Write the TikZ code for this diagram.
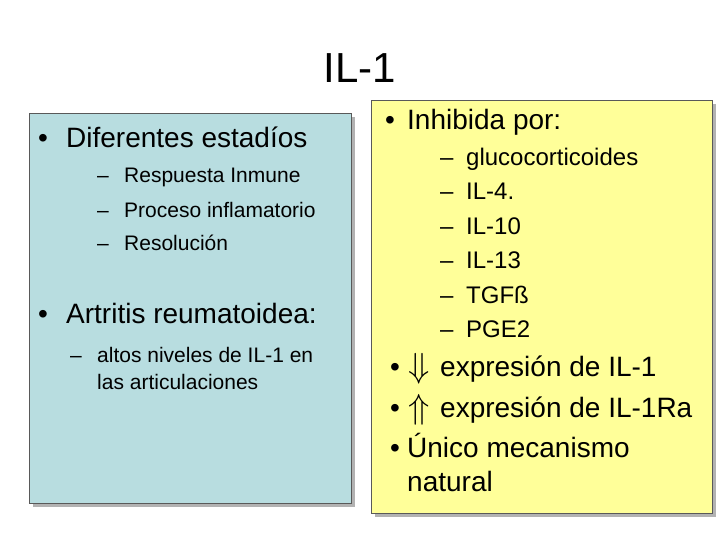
\documentclass[tikz,border=0pt]{standalone}
\usepackage{fontspec}
\setmainfont{Liberation Sans}
\usepackage{amssymb}
\definecolor{boxblue}{RGB}{184,221,224}
\definecolor{boxyellow}{RGB}{255,255,153}
\begin{document}
\begin{tikzpicture}[x=1pt,y=-1pt,
  panel/.style={draw=gray!70!black,line width=0.8pt},
  line/.style={anchor=west,inner sep=0pt,text height=0.72em,text depth=0.2em,yshift=-5pt},
  big/.style={line,font=\fontsize{28}{32}\selectfont},
  small/.style={line,font=\fontsize{21}{25}\selectfont},
  smallr/.style={line,font=\fontsize{24}{28}\selectfont},
  arrowsym/.style={line,font=\fontsize{28}{32}\selectfont,scale=1.4}]
\useasboundingbox (0,0) rectangle (720,540);

\node[font=\fontsize{42}{48}\selectfont] (title) at (360,68) {IL-1};

% left panel
\fill[gray!60] (33,117) rectangle (355,507);
\draw[panel,fill=boxblue] (29,113) rectangle (351,503);
\node[big] (b1) at (38,140) {•};
\node[big] (t1) at (66,140) {Diferentes estadíos};
\node[small] (d1) at (97,175) {–};
\node[small] (s1) at (124,175) {Respuesta Inmune};
\node[small] (d2) at (97,210) {–};
\node[small] (s2) at (124,210) {Proceso inflamatorio};
\node[small] (d3) at (97,243) {–};
\node[small] (s3) at (124,243) {Resolución};
\node[big] (b2) at (38,316) {•};
\node[big] (t2) at (66,316) {Artritis reumatoidea:};
\node[small] (d4) at (70,355) {–};
\node[small] (s4) at (97,355) {altos niveles de IL-1 en};
\node[small] (s5) at (97,382) {las articulaciones};

% right panel
\fill[gray!60] (375,104) rectangle (716,517);
\draw[panel,fill=boxyellow] (371,100) rectangle (712,513);
\node[big] (b3) at (385,122) {•};
\node[big] (t3) at (407,122) {Inhibida por:};
\foreach \txt [count=\i] in {glucocorticoides,IL-4.,IL-10,IL-13,TGFß,PGE2}{
  \node[smallr] (dr\i) at (440,158+34.4*\i-34.4) {–};
  \node[smallr] (r\i) at (466,158+34.4*\i-34.4) {\txt};
}
\node[big] (b4) at (390,369) {•};
\node[arrowsym] (a4) at (408,369) {$\Downarrow$};
\node[big] (t4) at (440,369) {expresión de IL-1};
\node[big] (b5) at (390,410) {•};
\node[arrowsym] (a5) at (408,410) {$\Uparrow$};
\node[big] (t5) at (440,410) {expresión de IL-1Ra};
\node[big] (b6) at (390,450) {•};
\node[big] (t6) at (407,450) {Único mecanismo};
\node[big] (t7) at (407,484) {natural};
\end{tikzpicture}
\end{document}
